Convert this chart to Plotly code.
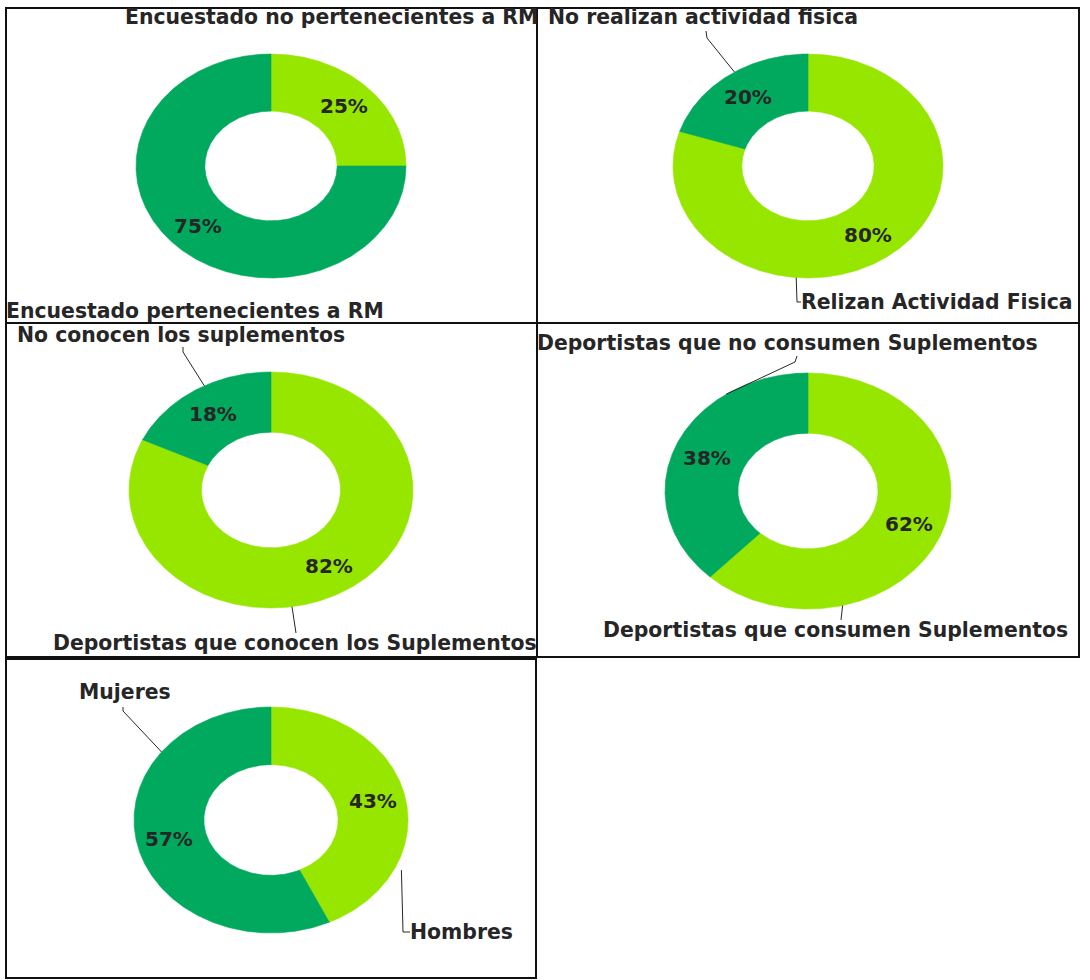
import numpy as np
import plotly.graph_objects as go

# Survey results: each donut lists its first category first (clockwise from 12 o'clock)
cats_rm = ["Encuestado no pertenecientes a RM", "Encuestado pertenecientes a RM"]
vals_rm = [25, 75]
cats_act = ["Relizan Actividad Fisica", "No realizan actividad fisica"]
vals_act = [80, 20]
cats_con = ["Deportistas que conocen los Suplementos", "No conocen los suplementos"]
vals_con = [82, 18]
cats_cons = ["Deportistas que consumen Suplementos", "Deportistas que no consumen Suplementos"]
vals_cons = [62, 38]
cats_sex = ["Hombres", "Mujeres"]
vals_sex = [43, 57]

SLICE_COLORS = ["#97E600", "#00A95D"]
TEXT_COLOR = "#262626"
FONT = "DejaVu Sans"
HOLE = 0.49
PCT_RADIUS = 0.76

# Panel layout (pixel space): frame, donut centre / radii, and per-category label placement.
# label: (x, y) of text left edge; leader: (angle on ring, radius factor, waypoints) or None
panels = [
    dict(cats=cats_rm, vals=vals_rm, box=(6, 8, 537, 323), c=(271, 166), rx=135, ry=112,
         labels=[((124, 17), None), ((5, 311), None)]),
    dict(cats=cats_act, vals=vals_act, box=(537, 8, 1079, 323), c=(808, 166), rx=135, ry=112,
         labels=[((800, 302), (185, 1.0, [(797, 302), (801, 302)])),
                 ((547, 17), (327, 1.0, [(707, 38), (706, 31)]))]),
    dict(cats=cats_con, vals=vals_con, box=(6, 323, 537, 657), c=(271, 490), rx=142, ry=118,
         labels=[((52, 643), (171.5, 1.0, [(296, 633)])),
                 ((16, 335), (332, 1.0, [(183, 352), (183, 347)]))]),
    dict(cats=cats_cons, vals=vals_cons, box=(537, 323, 1079, 657), c=(808, 491), rx=143, ry=118,
         labels=[((602, 630), (166, 1.0, [(841, 620)])),
                 ((536, 343), (325, 1.0, [(795, 362), (797, 356)]))]),
    dict(cats=cats_sex, vals=vals_sex, box=(6, 659, 536, 978), c=(271, 820), rx=137, ry=113,
         labels=[((409, 932), (115, 1.05, [(403, 932), (410, 932)])),
                 ((78, 692), (307, 1.0, [(123, 711), (123, 707)]))]),
]


def ring_point(cx, cy, rx, ry, deg, r):
    a = np.deg2rad(deg)
    return cx + r * rx * np.sin(a), cy - r * ry * np.cos(a)


fig = go.Figure()
shapes = []
annotations = []

for p in panels:
    cx, cy = p["c"]
    rx, ry = p["rx"], p["ry"]
    total = float(sum(p["vals"]))
    start = 0.0
    for i, (cat, v) in enumerate(zip(p["cats"], p["vals"])):
        span = 360.0 * v / total
        t = np.linspace(start, start + span, max(int(span * 2), 8))
        ox, oy = ring_point(cx, cy, rx, ry, t, 1.0)
        ix, iy = ring_point(cx, cy, rx, ry, t[::-1], HOLE)
        xs = np.concatenate([ox, ix, ox[:1]])
        ys = np.concatenate([oy, iy, oy[:1]])
        fig.add_trace(go.Scatter(
            x=xs, y=ys, mode="lines", fill="toself",
            fillcolor=SLICE_COLORS[i], line=dict(color=SLICE_COLORS[i], width=0.6),
            name=cat, hoverinfo="name", showlegend=False))

        mid = start + span / 2
        px, py = ring_point(cx, cy, rx, ry, mid, PCT_RADIUS)
        annotations.append(dict(
            x=px, y=py, xref="x", yref="y", text=f"{v:.0f}%", showarrow=False,
            font=dict(family=FONT, size=20, color=TEXT_COLOR, weight="bold"),
            xanchor="center", yanchor="middle"))

        (lx, ly), leader = p["labels"][i]
        annotations.append(dict(
            x=lx, y=ly, xref="x", yref="y", text=cat, showarrow=False,
            font=dict(family=FONT, size=20.4, color=TEXT_COLOR, weight="bold"),
            xanchor="left", yanchor="middle", borderpad=0))
        if leader is not None:
            ang, rf, pts = leader
            sx, sy = ring_point(cx, cy, rx, ry, ang, rf)
            path = f"M {sx:.1f},{sy:.1f} " + " ".join(f"L {x},{y}" for x, y in pts)
            shapes.append(dict(type="path", path=path, xref="x", yref="y",
                               line=dict(color=TEXT_COLOR, width=1)))
        start += span

    x0, y0, x1, y1 = p["box"]
    shapes.append(dict(type="rect", x0=x0, y0=y0, x1=x1, y1=y1, xref="x", yref="y",
                       line=dict(color="#111111", width=2), fillcolor="rgba(0,0,0,0)"))

fig.update_layout(
    width=1090, height=980,
    margin=dict(l=0, r=0, t=0, b=0),
    paper_bgcolor="white", plot_bgcolor="white",
    xaxis=dict(range=[0, 1090], visible=False, fixedrange=True),
    yaxis=dict(range=[980, 0], visible=False, fixedrange=True),
    shapes=shapes, annotations=annotations, showlegend=False,
)

fig.write_html("out.html")
